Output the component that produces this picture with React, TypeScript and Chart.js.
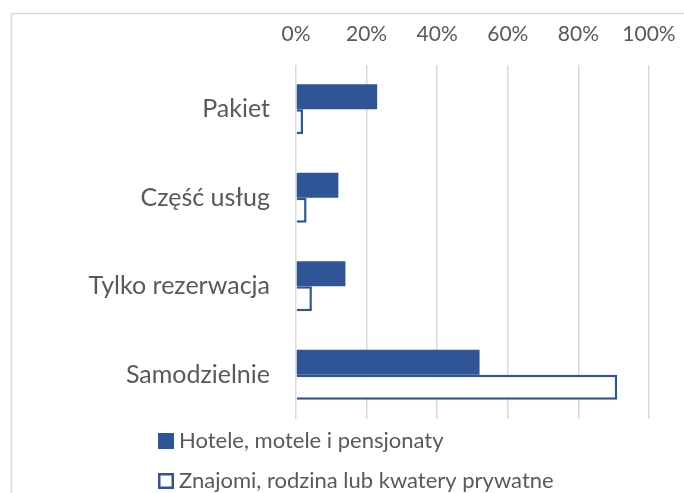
import React, { useEffect, useRef } from "react";
import { Chart, registerables } from "chart.js";

Chart.register(...registerables);

const categories = ["Pakiet", "Część usług", "Tylko rezerwacja", "Samodzielnie"];
const seriesNames = ["Hotele, motele i pensjonaty", "Znajomi, rodzina lub kwatery prywatne"];
const hotele = [23, 12, 14, 52];
const znajomi = [2, 3, 4.5, 91];
const tickValues = [0, 20, 40, 60, 80, 100];

const BLUE = "#2F5597";
const TEXT = "#595959";
const GRID = "#D9D9D9";
const FONT = "Lato, 'Open Sans', sans-serif";

const framePlugin = {
  id: "frame",
  beforeDraw(chart: any) {
    const ctx = chart.ctx;
    ctx.save();
    ctx.fillStyle = "#ffffff";
    ctx.fillRect(0, 0, chart.width, chart.height);
    ctx.strokeStyle = GRID;
    ctx.lineWidth = 1.5;
    ctx.strokeRect(11.5, 13.5, chart.width + 20, chart.height + 20);
    ctx.restore();
  },
};

const legendPlugin = {
  id: "customLegend",
  afterDraw(chart: any) {
    const ctx = chart.ctx;
    const items = chart.data.datasets;
    const x0 = 158;
    const ys = [441, 481];
    ctx.save();
    items.forEach((ds: any, i: number) => {
      const cy = ys[i];
      const size = 16;
      if (i === 0) {
        ctx.fillStyle = BLUE;
        ctx.fillRect(x0, cy - size / 2, size, size);
      } else {
        ctx.fillStyle = "#fff";
        ctx.fillRect(x0, cy - size / 2, size, size);
        ctx.strokeStyle = BLUE;
        ctx.lineWidth = 2.5;
        ctx.strokeRect(x0 + 1.25, cy - size / 2 + 1.25, size - 2.5, size - 2.5);
      }
      ctx.fillStyle = TEXT;
      ctx.font = `22px ${FONT}`;
      ctx.textBaseline = "middle";
      ctx.textAlign = "left";
      ctx.fillText(ds.label, x0 + 21, cy);
    });
    ctx.restore();
  },
};

export default function App() {
  const ref = useRef<HTMLCanvasElement | null>(null);
  useEffect(() => {
    if (!ref.current) return;
    const chart = new Chart(ref.current, {
      type: "bar",
      data: {
        labels: categories,
        datasets: [
          {
            label: seriesNames[0],
            data: hotele,
            backgroundColor: BLUE,
            borderColor: BLUE,
            borderWidth: 0,
            categoryPercentage: 0.565,
            barPercentage: 1,
          },
          {
            label: seriesNames[1],
            data: znajomi,
            backgroundColor: "#ffffff",
            borderColor: BLUE,
            borderWidth: 2.5,
            categoryPercentage: 0.565,
            barPercentage: 1,
          },
        ],
      },
      options: {
        indexAxis: "y",
        animation: false,
        responsive: true,
        maintainAspectRatio: false,
        layout: { padding: { left: 0, right: 35, top: 0, bottom: 74 } },
        plugins: {
          legend: { display: false },
          tooltip: { enabled: false },
        },
        scales: {
          x: {
            position: "top",
            min: 0,
            max: 100,
            afterBuildTicks: (scale: any) => {
              scale.ticks = tickValues.map((v) => ({ value: v }));
            },
            afterFit: (scale: any) => {
              scale.height = 65;
              scale.paddingRight = 0;
              scale.paddingLeft = 0;
            },
            ticks: {
              color: TEXT,
              font: { family: FONT, size: 21 },
              padding: 18,
              callback: (v: any) => `${v}%`,
              maxRotation: 0,
            },
            grid: { color: GRID, lineWidth: 1.5, drawTicks: false },
            border: { display: false },
          },
          y: {
            afterFit: (scale: any) => {
              scale.width = 296;
            },
            ticks: {
              color: TEXT,
              font: { family: FONT, size: 25 },
              padding: 26,
            },
            grid: { display: false, drawTicks: false },
            border: { display: false },
          },
        },
      },
      plugins: [framePlugin, legendPlugin],
    } as any);
    return () => chart.destroy();
  }, []);
  return (
    <div style={{ position: "fixed", left: 0, top: 0, width: 684, height: 493 }}>
      <canvas ref={ref} />
    </div>
  );
}
